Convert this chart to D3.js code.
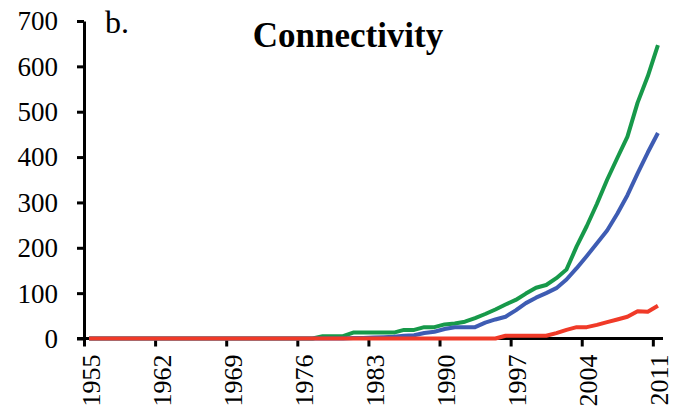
<!DOCTYPE html>
<html lang="en">
<head>
    <meta charset="UTF-8">
    <title>Connectivity</title>
    <script src="https://d3js.org/d3.v7.min.js"></script>
    <style>
        body {
            margin: 0;
            padding: 0;
            background-color: #fff;
        }

        #chart text {
            font-family: "Liberation Serif", "Times New Roman", serif;
            fill: #000;
        }

        .axis path,
        .axis line {
            stroke: #000;
            stroke-width: 3px;
        }

        .series {
            fill: none;
            stroke-width: 4px;
            stroke-linejoin: round;
        }
    </style>
</head>
<body>
    <svg id="chart" width="675" height="416"></svg>
    <script>
        // categories: one per year 1955..2011
        const years = d3.range(1955, 2012);
        const yearTicks = [1955, 1962, 1969, 1976, 1983, 1990, 1997, 2004, 2011];
        const valueTicks = [0, 100, 200, 300, 400, 500, 600, 700];

        // series values (1955..2011)
        const greenValues = [
            0, 0, 0, 0, 0, 0, 0, 0, 0, 0, 0, 0, 0, 0, 0, 0, 0, 0, 0, 0, 0, 0, 0,
            5, 5, 5, 13, 13, 13, 13, 13, 19, 19, 25, 25, 31, 33, 37, 45, 54, 64,
            75, 85, 99, 112, 118, 133, 152, 203, 248, 297, 350, 398, 445, 520, 578, 647
        ];
        const blueValues = [
            0, 0, 0, 0, 0, 0, 0, 0, 0, 0, 0, 0, 0, 0, 0, 0, 0, 0, 0, 0, 0, 0, 0, 0, 0, 0,
            1, 1, 2, 3, 4, 6, 7, 12, 15, 21, 25, 25, 25, 35, 42, 48, 62, 78, 90, 100,
            111, 130, 155, 182, 210, 238, 275, 316, 364, 410, 453
        ];
        const redValues = [
            0, 0, 0, 0, 0, 0, 0, 0, 0, 0, 0, 0, 0, 0, 0, 0, 0, 0, 0, 0, 0, 0, 0, 0, 0, 0,
            0, 0, 0, 0, 0, 0, 0, 0, 0, 0, 0, 0, 0, 0, 0,
            6, 6, 6, 6, 6, 12, 19, 25, 25, 30, 36, 42, 48, 60, 59, 72
        ];

        const seriesList = [
            { name: "green", color: "#17994a", values: greenValues },
            { name: "blue", color: "#3e5cb3", values: blueValues },
            { name: "red", color: "#f03a28", values: redValues }
        ];

        const svg = d3.select("#chart");

        // each year is a category slot [year, year+1]
        const x = d3.scaleLinear()
            .domain([1955, 2012])
            .range([84, 663]);

        const y = d3.scaleLinear()
            .domain([0, 700])
            .range([338.5, 21]);

        const half = (x(1956) - x(1955)) / 2;

        // Y axis
        const yAxis = svg.append("g")
            .attr("class", "axis")
            .attr("transform", `translate(${x(1955)},0)`)
            .call(d3.axisLeft(y).tickValues(valueTicks).tickSize(7).tickPadding(19).tickSizeOuter(0));
        yAxis.selectAll("text")
            .style("font-size", "27px")
            .attr("dy", "0.33em");

        // X axis: ticks at slot edges, labels at slot centres
        const xAxis = svg.append("g")
            .attr("class", "axis")
            .attr("transform", `translate(0,${y(0)})`)
            .call(d3.axisBottom(x).tickValues(yearTicks).tickSize(8).tickSizeOuter(0).tickFormat(d3.format("d")));
        xAxis.select(".domain").attr("d", `M${x(1955) - 7},0H${x(2012)}`);
        xAxis.selectAll("text")
            .style("font-size", "26px")
            .attr("text-anchor", "end")
            .attr("y", 0)
            .attr("dy", 0)
            .attr("transform", `translate(${half + 10},16) rotate(-90)`);

        // lines
        const line = d3.line()
            .x((d, i) => x(years[i] + 0.5))
            .y(d => y(d));

        svg.selectAll(".series")
            .data(seriesList)
            .enter()
            .append("path")
            .attr("class", "series")
            .attr("stroke", d => d.color)
            .attr("d", d => line(d.values));

        // labels
        svg.append("text")
            .attr("x", 105)
            .attr("y", 33)
            .style("font-size", "32px")
            .text("b.");

        svg.append("text")
            .attr("x", 348)
            .attr("y", 47)
            .attr("text-anchor", "middle")
            .style("font-size", "35px")
            .style("font-weight", "bold")
            .text("Connectivity");
    </script>
</body>
</html>
